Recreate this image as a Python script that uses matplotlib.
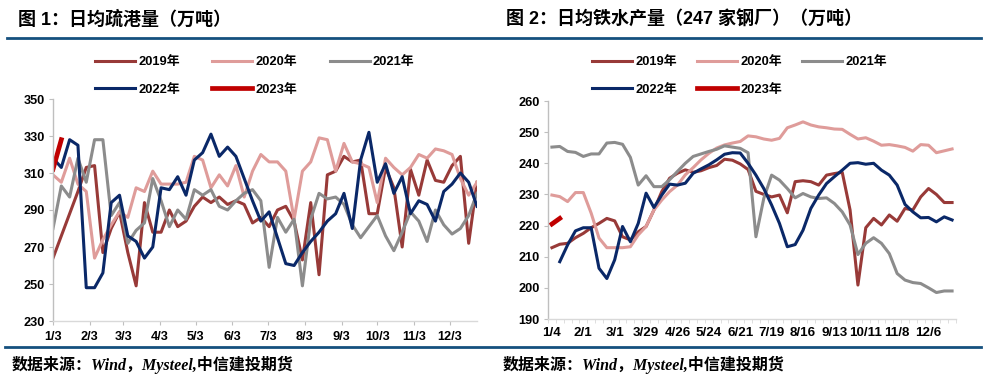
import numpy as np
import matplotlib
matplotlib.use('Agg')
import matplotlib.pyplot as plt
from matplotlib.lines import Line2D

plt.rcParams['font.family'] = ['Liberation Sans', 'Noto Sans CJK SC']

# ---------------- data: left chart (日均疏港量, weekly) ----------------
port_2019 = [264, 276, 288, 300, 313, 314, 267, 280, 289, 267, 249, 294, 278, 278, 290, 281, 284, 292,
             297, 294, 297, 293, 295, 293, 283, 286, 281, 290, 292, 284,
             263, 294, 255, 309, 311, 319, 316, 317, 288, 288, 313, 302, 270, 312, 298, 317, 306, 305,
             314, 319, 272, 305]
port_2020 = [309, 305, 318, 304, 300, 264, 274, 282, 289, 286, 302, 300, 311, 304, 304, 304, 305, 319,
             317, 302, 309, 303, 314, 297, 311, 320, 316, 316, 311, 285, 311, 316, 329, 328,
             311, 326, 316, 315, 313, 294, 318, 313, 309, 313, 320, 318, 323, 322, 320, 307, 298, 305]
port_2021 = [280, 303, 297, 318, 305, 328, 328, 287, 294, 272, 279, 283, 307, 295, 281, 290, 285, 301,
             298, 301, 292, 290, 295, 299, 301, 295, 259, 286, 278, 285, 249, 285, 299, 296, 297,
             293, 282, 275, 281, 287, 276, 268, 278, 289, 284, 273, 290, 282, 277, 280, 287, 299]
port_2022 = [318, 313, 328, 325, 248, 248, 256, 294, 298, 276, 273, 264, 270, 302, 301, 308, 298, 317,
             321, 331, 319, 324, 319, 307, 295, 284, 289, 275, 261, 260, 267, 273, 278, 284, 288,
             299, 280, 317, 332, 305, 315, 299, 308, 288, 295, 293, 284, 300, 304, 310, 305, 292]
port_2023 = [312, 328]
port_ticks = ['1/3', '2/3', '3/3', '4/3', '5/3', '6/3', '7/3', '8/3', '9/3', '10/3', '11/3', '12/3']
port_tick_days = [0, 31, 59, 90, 120, 151, 181, 212, 243, 273, 304, 334]

# ---------------- data: right chart (日均铁水产量, weekly) ----------------
hm_2019 = [212.9, 214, 214.3, 216.1, 217.5, 219.3, 220.7, 222.3, 221.5, 216.4, 215.4, 218, 219.7,
           225, 230.9, 235.2, 236.8, 237.9, 237.1, 237.6, 238.6, 239.3, 241.3, 241, 239.8, 238,
           231, 230, 229.2, 229.8, 224.1, 234.1, 234.4, 234.1, 233, 236.2, 236.7, 237.1, 225,
           200.9, 219.3, 222.3, 220.2, 223.4, 221.4, 225.5, 225, 229.2, 231.9, 230, 227.4, 227.4]
hm_2020 = [229.8, 229.3, 227.7, 230.6, 230.6, 224, 216, 212.9, 212.9, 212.9, 213.2, 217, 219.7,
           225, 228.2, 230.9, 233, 236.3, 238.6, 241.1, 243.2, 244.9, 245.9, 246.5, 247, 248.8,
           248.5, 247.8, 247.4, 248, 251.4, 252.3, 253.3, 252.3, 251.7, 251.4, 251, 250.9, 249.3,
           247.8, 248.2, 247.1, 245.8, 246, 245.6, 245.1, 243.9, 246, 245.8, 243.4, 244, 244.6]
hm_2021 = [245.2, 245.4, 243.8, 243.5, 242.2, 243, 243, 246.5, 246.7, 246.1, 241.9, 233, 236,
           232.5, 232.5, 234.7, 237.4, 240, 242.2, 243, 243.8, 244.5, 245.6, 245.2, 244.8, 243.4,
           216.4, 228.7, 236.2, 234.6, 231.9, 228.9, 230.3, 229.2, 228.7, 228.9, 227.1, 224.4, 220.2,
           210.7, 214.3, 216.1, 214.3, 211, 204.6, 202.5, 201.7, 201.4, 200, 198.5, 199, 199]
hm_2022 = [np.nan, 208.4, 213.8, 218.3, 219.3, 219.3, 206.3, 203, 209, 219.7, 214.8, 220.7, 230.4,
           225.8, 229.8, 233.3, 233, 233.6, 236.8, 238.2, 239.5, 241.1, 242.9, 243.4, 243.3, 240,
           236.2, 231.9, 226.6, 220.7, 213.2, 213.9, 218.5, 225.5, 229.8, 233.5, 235.7, 237.8, 240,
           240.2, 239.7, 240, 237.8, 236.2, 233, 226.8, 224.4, 222.5, 222.6, 221.2, 222.8, 221.8]
hm_2023 = [220.5, 222.3]
hm_ticks = ['1/4', '2/1', '3/1', '3/29', '4/26', '5/24', '6/21', '7/19', '8/16', '9/13',
            '10/11', '11/8', '12/6']

years = ['2019年', '2020年', '2021年', '2022年', '2023年']
colors = ['#983A38', '#DF9C9A', '#8C8C8C', '#0A2868', '#C00000']
widths = [2.2, 2.2, 2.2, 2.2, 3.4]

W, H = 991, 382
fig = plt.figure(figsize=(W / 100, H / 100), dpi=100)


def fx(px):
    return px / W


def fy(py):
    return 1 - py / H


def style_axes(ax, size):
    for s in ['top', 'right']:
        ax.spines[s].set_visible(False)
    ax.spines['left'].set_color('#BFBFBF')
    ax.spines['bottom'].set_color('#D9D9D9')
    ax.spines['left'].set_linewidth(1.0)
    ax.spines['bottom'].set_linewidth(1.0)
    for lab in ax.get_yticklabels():
        lab.set_fontweight('bold')
        lab.set_fontsize(9.2)
    for lab in ax.get_xticklabels():
        lab.set_fontweight('bold')
        lab.set_fontsize(size)


def add_legend(ax, handles, x0, y0, colsp):
    order = [0, 3, 1, 4, 2]
    ax.legend([handles[i] for i in order], [years[i] for i in order], ncol=3,
              loc='upper left', bbox_to_anchor=(fx(x0), fy(y0)), bbox_transform=fig.transFigure,
              frameon=False, borderpad=0, borderaxespad=0, handlelength=3.1,
              handletextpad=0.25, columnspacing=colsp, labelspacing=1.2,
              prop={'weight': 'bold', 'size': 9.3})


# ---------------- left chart ----------------
ax1 = fig.add_axes([fx(53), fy(321), fx(477) - fx(53), fy(99) - fy(321)])
port_series = [port_2019, port_2020, port_2021, port_2022, port_2023]
h1 = []
for s, c, w in zip(port_series, colors, widths):
    x = 7 * np.arange(len(s))
    ln, = ax1.plot(x, s, color=c, lw=w)
    h1.append(ln)
ax1.set_xlim(0, 357)
ax1.set_ylim(230, 350)
ax1.set_yticks(np.arange(230, 351, 20))
ax1.set_xticks(port_tick_days)
ax1.set_xticklabels(port_ticks)
ax1.tick_params(axis='both', length=3, color='#BFBFBF', pad=3)
ax1.tick_params(axis='x', pad=4)
style_axes(ax1, 9.2)
add_legend(ax1, h1, 95, 56, 2.5)

# ---------------- right chart ----------------
ax2 = fig.add_axes([fx(548), fy(319), fx(956) - fx(548), fy(101) - fy(319)])
hm_series = [hm_2019, hm_2020, hm_2021, hm_2022, hm_2023]
h2 = []
for s, c, w in zip(hm_series, colors, widths):
    x = np.arange(len(s))
    ln, = ax2.plot(x, s, color=c, lw=w)
    h2.append(ln)
ax2.set_xlim(-0.5, 51.5)
ax2.set_ylim(190, 260)
ax2.set_yticks(np.arange(190, 261, 10))
ax2.set_xticks(np.arange(0, 52, 4))
ax2.set_xticklabels(hm_ticks)
ax2.set_xticks(np.arange(-0.5, 52, 1), minor=True)
ax2.tick_params(axis='x', which='major', length=0, pad=6)
ax2.tick_params(axis='x', which='minor', length=3, color='#D9D9D9')
ax2.tick_params(axis='y', length=3, color='#BFBFBF', pad=3)
style_axes(ax2, 9.6)
add_legend(ax2, h2, 592, 56, 1.55)

# ---------------- titles, rules, source ----------------
fig.text(fx(18), fy(20), '图 1：日均疏港量（万吨）', fontsize=13, fontweight='bold',
         ha='left', va='center')
fig.text(fx(506), fy(20), '图 2：日均铁水产量（247 家钢厂）（万吨）', fontsize=13,
         fontweight='bold', ha='left', va='center')

rule_c = '#15507E'
fig.add_artist(Line2D([fx(7), fx(981)], [fy(37.5), fy(37.5)], transform=fig.transFigure,
                      color=rule_c, lw=2.0))
fig.add_artist(Line2D([fx(5), fx(981)], [fy(347), fy(347)], transform=fig.transFigure,
                      color=rule_c, lw=2.0))

src = '数据来源：Wind，Mysteel,中信建投期货'
for x0 in (12, 503):
    fig.text(fx(x0), fy(365), src, family=['Liberation Serif', 'Noto Sans CJK SC'],
             style='italic', fontweight='bold', fontsize=11.5, ha='left', va='center')

fig.savefig('out.png', dpi=100)
